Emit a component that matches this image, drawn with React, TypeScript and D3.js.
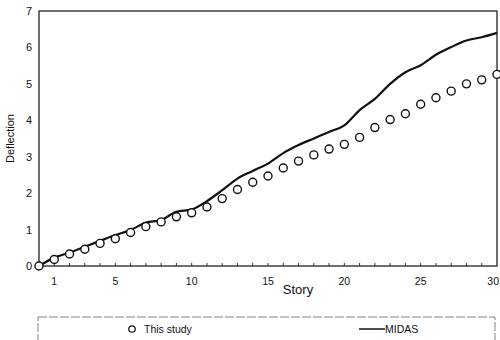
import React, { useEffect, useRef } from "react";
import * as d3 from "d3";

// Story numbers 0..30
const stories = [
  0, 1, 2, 3, 4, 5, 6, 7, 8, 9, 10, 11, 12, 13, 14, 15, 16, 17, 18, 19, 20,
  21, 22, 23, 24, 25, 26, 27, 28, 29, 30,
];

// "This study" (circles)
const thisStudy = [
  0, 0.18, 0.33, 0.46, 0.62, 0.75, 0.92, 1.08, 1.21, 1.35, 1.46, 1.62, 1.85,
  2.1, 2.3, 2.47, 2.69, 2.88, 3.05, 3.21, 3.34, 3.53, 3.8, 4.02, 4.18, 4.44,
  4.62, 4.8, 5.0, 5.11, 5.26,
];

// "MIDAS" (solid line)
const midas = [
  0, 0.23, 0.37, 0.53, 0.69, 0.85, 0.99, 1.19, 1.26, 1.49, 1.55, 1.78, 2.08,
  2.4, 2.61, 2.81, 3.1, 3.32, 3.5, 3.68, 3.86, 4.28, 4.59, 5.0, 5.32, 5.51,
  5.8, 6.01, 6.19, 6.28, 6.4,
];

const xTickLabels = [1, 5, 10, 15, 20, 25, 30];
const yTickLabels = [0, 1, 2, 3, 4, 5, 6, 7];

const W = 500;
const H = 340;
const FONT = "'Liberation Sans', Arial, sans-serif";

const App = () => {
  const ref = useRef<SVGSVGElement | null>(null);

  useEffect(() => {
    const svg = d3.select(ref.current);
    svg.selectAll("*").remove();

    const margin = { top: 11, right: 3, bottom: 74, left: 39 };
    const x = d3
      .scaleLinear()
      .domain([0, 30])
      .range([margin.left, W - margin.right]);
    const y = d3
      .scaleLinear()
      .domain([0, 7])
      .range([H - margin.bottom, margin.top]);

    // frame
    svg
      .append("rect")
      .attr("x", x(0))
      .attr("y", y(7))
      .attr("width", x(30) - x(0))
      .attr("height", y(0) - y(7))
      .attr("fill", "none")
      .attr("stroke", "#222")
      .attr("stroke-width", 1.3);

    // minor ticks on bottom axis, pointing inward
    svg
      .append("g")
      .selectAll("line")
      .data(stories.slice(1, -1))
      .enter()
      .append("line")
      .attr("x1", (d) => x(d))
      .attr("x2", (d) => x(d))
      .attr("y1", y(0))
      .attr("y2", y(0) - 3)
      .attr("stroke", "#333")
      .attr("stroke-width", 1);

    // x tick labels (last one kept inside the picture)
    svg
      .append("g")
      .selectAll("text")
      .data(xTickLabels)
      .enter()
      .append("text")
      .attr("x", (d) => (d === 30 ? W - 1 : x(d)))
      .attr("y", y(0) + 19)
      .attr("text-anchor", (d) => (d === 30 ? "end" : "middle"))
      .attr("font-family", FONT)
      .attr("font-size", 10.5)
      .attr("fill", "#111")
      .text((d) => d);

    // y tick labels
    svg
      .append("g")
      .selectAll("text")
      .data(yTickLabels)
      .enter()
      .append("text")
      .attr("x", x(0) - 7)
      .attr("y", (d) => y(d) + 4)
      .attr("text-anchor", "end")
      .attr("font-family", FONT)
      .attr("font-size", 11)
      .attr("fill", "#111")
      .text((d) => d);

    // axis titles
    svg
      .append("text")
      .attr("x", 298)
      .attr("y", 294)
      .attr("text-anchor", "middle")
      .attr("font-family", FONT)
      .attr("font-size", 13)
      .attr("fill", "#111")
      .text("Story");

    svg
      .append("text")
      .attr("transform", `translate(14, ${y(3.5)}) rotate(-90)`)
      .attr("text-anchor", "middle")
      .attr("font-family", FONT)
      .attr("font-size", 11)
      .attr("fill", "#111")
      .text("Deflection");

    // MIDAS line
    const line = d3
      .line<number>()
      .x((d, i) => x(stories[i]))
      .y((d) => y(d))
      .curve(d3.curveMonotoneX);

    svg
      .append("path")
      .datum(midas)
      .attr("d", line)
      .attr("fill", "none")
      .attr("stroke", "#111")
      .attr("stroke-width", 2.2);

    // This study circles
    svg
      .append("g")
      .selectAll("circle")
      .data(thisStudy)
      .enter()
      .append("circle")
      .attr("cx", (d, i) => x(stories[i]))
      .attr("cy", (d) => y(d))
      .attr("r", 4)
      .attr("fill", "#fff")
      .attr("stroke", "#111")
      .attr("stroke-width", 1.4);

    // legend box (dashed)
    svg
      .append("rect")
      .attr("x", 38)
      .attr("y", 317)
      .attr("width", 457)
      .attr("height", 40)
      .attr("fill", "none")
      .attr("stroke", "#666")
      .attr("stroke-width", 0.8)
      .attr("stroke-dasharray", "9,2");

    svg
      .append("circle")
      .attr("cx", 132)
      .attr("cy", 329)
      .attr("r", 3.2)
      .attr("fill", "#fff")
      .attr("stroke", "#111")
      .attr("stroke-width", 1.3);

    svg
      .append("text")
      .attr("x", 144)
      .attr("y", 333)
      .attr("font-family", FONT)
      .attr("font-size", 10.5)
      .attr("fill", "#111")
      .text("This study");

    svg
      .append("line")
      .attr("x1", 359)
      .attr("x2", 385)
      .attr("y1", 329)
      .attr("y2", 329)
      .attr("stroke", "#111")
      .attr("stroke-width", 1.5);

    svg
      .append("text")
      .attr("x", 385)
      .attr("y", 333)
      .attr("font-family", FONT)
      .attr("font-size", 10.5)
      .attr("fill", "#111")
      .text("MIDAS");
  }, []);

  return (
    <svg
      ref={ref}
      width={W}
      height={H}
      style={{ position: "absolute", left: 0, top: 0, background: "#fff" }}
    />
  );
};

export default App;
